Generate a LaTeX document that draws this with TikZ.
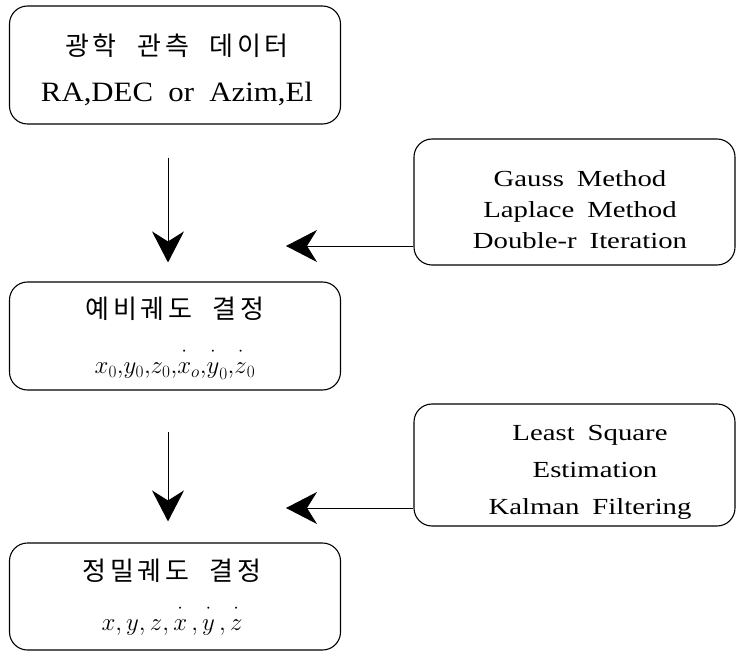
\documentclass[tikz,border=0pt]{standalone}
\usepackage[no-math]{fontspec}
\setmainfont{Liberation Serif}[FakeStretch=1.1, WordSpace=2]
\newfontfamily\widefont{Liberation Serif}[FakeStretch=1.25, WordSpace=1.8]
\newfontfamily\kofont{Noto Sans CJK KR}[LetterSpace=14, WordSpace=2.2]
\usetikzlibrary{arrows.meta}

\begin{document}
\begin{tikzpicture}[x=1pt, y=-1pt,
  stage/.style={draw, line width=1.1pt, rounded corners=18pt, minimum width=331pt, minimum height=108pt},
  method/.style={draw, line width=1.1pt, rounded corners=18pt, minimum width=321pt},
  flow/.style={-{Stealth[length=31pt, width=32pt, inset=10pt]}, line width=0.9pt}]
  \useasboundingbox (0,0) rectangle (736,652);

  % left column
  \node [stage, minimum height=118pt] (obs) at (175,65) {};
  \node [align=center, font=\fontsize{28}{46}\selectfont] (obstext) at (177,70)
    {{\kofont\fontsize{26}{26}\selectfont 광학 관측 데이터}\\RA,DEC or Azim,El};
  \node [stage] (prelim) at (175,336) {};
  \node [align=center, font=\fontsize{26}{55}\selectfont] (prelimtext) at (175,338)
    {{\kofont\fontsize{26}{26}\selectfont 예비궤도 결정}\\$x_0{,}y_0{,}z_0{,}\dot{\vphantom{b}x}_o{,}\dot{\vphantom{b}y}_0{,}\dot{\vphantom{b}z}_0$};
  \node [stage, minimum height=107pt] (precise) at (175,596.5) {};
  \node [align=center, font=\fontsize{26}{50}\selectfont] (precisetext) at (172,597)
    {{\kofont\fontsize{26}{26}\selectfont 정밀궤도 결정}\\$x,y,z,\dot{\vphantom{b}x}\,,\dot{\vphantom{b}y}\,,\dot{\vphantom{b}z}$};

  % right column
  \node [method, minimum height=126pt] (methods) at (574.5,202) {};
  \node [align=center, font=\widefont\fontsize{23}{31}\selectfont] (methodtext) at (580,210)
    {Gauss Method\\Laplace Method\\Double-r Iteration};
  \node [method, minimum height=122pt] (estim) at (574.5,465) {};
  \node [align=center, font=\widefont\fontsize{23}{37}\selectfont] (estimtext) at (590,472)
    {Least Square\\\hspace{10pt}Estimation\\Kalman Filtering};

  % arrows
  \coordinate (spine) at (168,0);
  \coordinate (in1) at (286,246);
  \coordinate (in2) at (286,508);
  \draw [flow, shorten <=33pt, shorten >=19pt] (obs.south -| spine) -- (prelim.north -| spine);
  \draw [flow, shorten <=41pt, shorten >=21pt] (prelim.south -| spine) -- (precise.north -| spine);
  \draw [flow] (methods.west |- in1) -- (in1);
  \draw [flow] (estim.west |- in2) -- (in2);
\end{tikzpicture}
\end{document}
